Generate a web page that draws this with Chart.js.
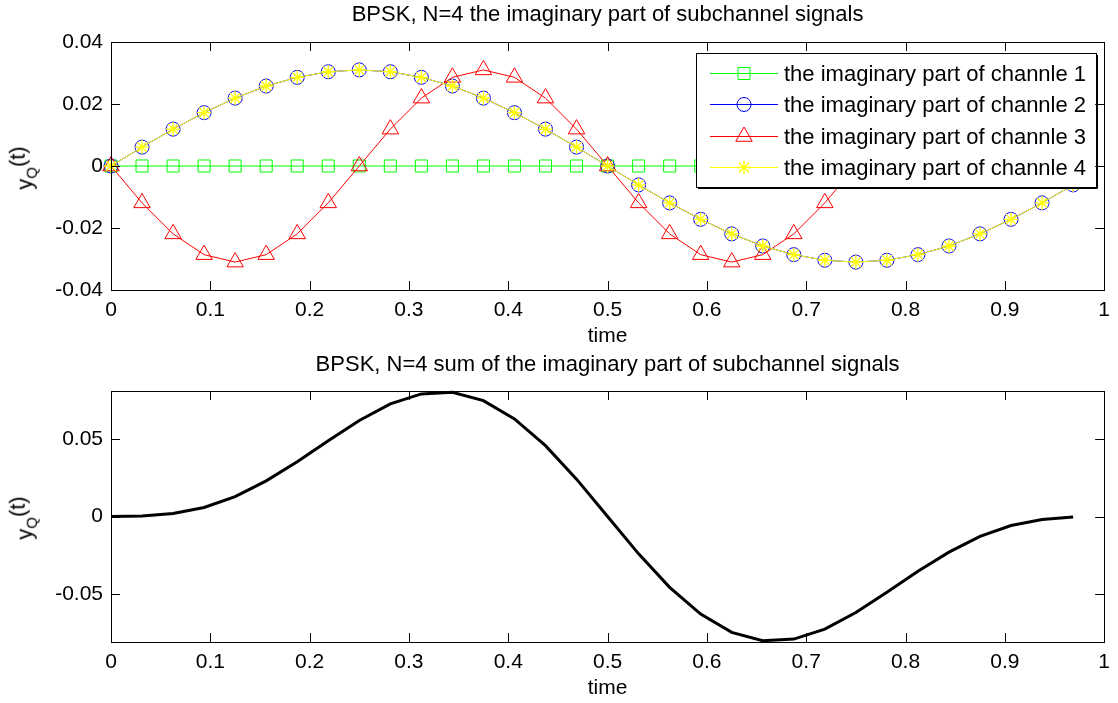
<!DOCTYPE html>
<html>
<head>
<meta charset="utf-8">
<script src="https://cdn.jsdelivr.net/npm/chart.js@4.4.1/dist/chart.umd.min.js"></script>
<style>
  html, body { margin: 0; padding: 0; background: #fff; }
  body { width: 1118px; height: 703px; position: relative; overflow: hidden;
         font-family: "Liberation Sans", Arial, sans-serif; }
  .plot { position: absolute; left: 0; }
  .ylab { position: absolute; font-size: 22px; white-space: nowrap; line-height: 1;
          transform: translate(-50%, -50%) rotate(-90deg); }
  .ylab sub { font-size: 15px; vertical-align: -0.3em; }
  .ylab span { position: relative; top: -0.3em; }
</style>
</head>
<body>
<canvas id="topPlot" class="plot" style="top:0px"></canvas>
<canvas id="bottomPlot" class="plot" style="top:351px"></canvas>
<div class="ylab" style="left:26px; top:168px;">y<sub>Q</sub><span>(t)</span></div>
<div class="ylab" style="left:26px; top:518px;">y<sub>Q</sub><span>(t)</span></div>

<script>
// sample times (1/32 steps)
const time = [0, 0.03125, 0.0625, 0.09375, 0.125, 0.15625, 0.1875, 0.21875,
  0.25, 0.28125, 0.3125, 0.34375, 0.375, 0.40625, 0.4375, 0.46875,
  0.5, 0.53125, 0.5625, 0.59375, 0.625, 0.65625, 0.6875, 0.71875,
  0.75, 0.78125, 0.8125, 0.84375, 0.875, 0.90625, 0.9375, 0.96875];

const channel1 = [0, 0, 0, 0, 0, 0, 0, 0, 0, 0, 0, 0, 0, 0, 0, 0,
  0, 0, 0, 0, 0, 0, 0, 0, 0, 0, 0, 0, 0, 0, 0, 0];
const channel2 = [0, 0.0061, 0.0119, 0.0172, 0.0219, 0.0258, 0.0286, 0.0304,
  0.031, 0.0304, 0.0286, 0.0258, 0.0219, 0.0172, 0.0119, 0.0061,
  0, -0.0061, -0.0119, -0.0172, -0.0219, -0.0258, -0.0286, -0.0304,
  -0.031, -0.0304, -0.0286, -0.0258, -0.0219, -0.0172, -0.0119, -0.0061];
const channel3 = [0, -0.0119, -0.0219, -0.0286, -0.031, -0.0286, -0.0219, -0.0119,
  0, 0.0119, 0.0219, 0.0286, 0.031, 0.0286, 0.0219, 0.0119,
  0, -0.0119, -0.0219, -0.0286, -0.031, -0.0286, -0.0219, -0.0119,
  0, 0.0119, 0.0219, 0.0286, 0.031, 0.0286, 0.0219, 0.0119];
const channel4 = [0, 0.0061, 0.0119, 0.0172, 0.0219, 0.0258, 0.0286, 0.0304,
  0.031, 0.0304, 0.0286, 0.0258, 0.0219, 0.0172, 0.0119, 0.0061,
  0, -0.0061, -0.0119, -0.0172, -0.0219, -0.0258, -0.0286, -0.0304,
  -0.031, -0.0304, -0.0286, -0.0258, -0.0219, -0.0172, -0.0119, -0.0061];
const sumSignal = [0, 0.0003, 0.0019, 0.0058, 0.0128, 0.023, 0.0353, 0.0489,
  0.062, 0.0727, 0.0791, 0.0802, 0.0748, 0.063, 0.0457, 0.0241,
  0, -0.0241, -0.0457, -0.063, -0.0748, -0.0802, -0.0791, -0.0727,
  -0.062, -0.0489, -0.0353, -0.023, -0.0128, -0.0058, -0.0019, -0.0003];

const legendLabels = ['the imaginary part of channle 1', 'the imaginary part of channle 2',
  'the imaginary part of channle 3', 'the imaginary part of channle 4'];

const xTicks = [0, 0.1, 0.2, 0.3, 0.4, 0.5, 0.6, 0.7, 0.8, 0.9, 1];
const yTicksTop = [-0.04, -0.02, 0, 0.02, 0.04];
const yTicksBottom = [-0.05, 0, 0.05];

const FONT = '"Liberation Sans", Arial, sans-serif';
Chart.defaults.font.family = FONT;
Chart.defaults.color = '#000';

const pts = arr => time.map((t, i) => ({ x: t, y: arr[i] }));
const fmt = v => String(+Number(v).toFixed(4));

// MATLAB-like box with inward ticks on all four sides
const boxAxes = {
  id: 'boxAxes',
  afterDraw(chart) {
    const { ctx, chartArea: a, scales } = chart;
    const len = 9;
    ctx.save();
    ctx.strokeStyle = '#000';
    ctx.lineWidth = 1;
    ctx.beginPath();
    scales.x.ticks.forEach(t => {
      const px = Math.round(scales.x.getPixelForValue(t.value)) + 0.5;
      ctx.moveTo(px, a.bottom); ctx.lineTo(px, a.bottom - len);
      ctx.moveTo(px, a.top); ctx.lineTo(px, a.top + len);
    });
    scales.y.ticks.forEach(t => {
      const py = Math.round(scales.y.getPixelForValue(t.value)) + 0.5;
      ctx.moveTo(a.left, py); ctx.lineTo(a.left + len, py);
      ctx.moveTo(a.right, py); ctx.lineTo(a.right - len, py);
    });
    ctx.stroke();
    ctx.strokeRect(Math.round(a.left) + 0.5, Math.round(a.top) + 0.5,
      Math.round(a.right - a.left), Math.round(a.bottom - a.top));
    ctx.restore();
  }
};

// legend box drawn inside the plot area, top right
const insideLegend = {
  id: 'insideLegend',
  afterDatasetsDraw(chart, args, opts) {
    if (!opts.show) return;
    const { ctx, chartArea: a } = chart;
    const dsets = chart.data.datasets;
    ctx.save();
    ctx.font = '22px ' + FONT;
    const textW = Math.max(...dsets.map(d => ctx.measureText(d.label).width));
    const rowH = 31.3;
    const w = Math.round(88 + textW + 10);
    const h = Math.round(20 + rowH * (dsets.length - 1) + 20);
    const x0 = Math.round(a.right - 8 - w);
    const y0 = Math.round(a.top + 11);
    ctx.fillStyle = '#fff';
    ctx.fillRect(x0, y0, w, h);
    ctx.strokeStyle = '#000';
    ctx.lineWidth = 1;
    ctx.strokeRect(x0 + 0.5, y0 + 0.5, w, h);
    ctx.beginPath();
    ctx.moveTo(x0 + w + 1.5, y0 + 2); ctx.lineTo(x0 + w + 1.5, y0 + h + 1.5); ctx.lineTo(x0 + 2, y0 + h + 1.5);
    ctx.stroke();
    dsets.forEach((d, i) => {
      const cy = Math.round(y0 + 20 + i * rowH) + 0.5;
      ctx.strokeStyle = d.borderColor;
      ctx.lineWidth = 1;
      ctx.beginPath();
      ctx.moveTo(x0 + 14, cy); ctx.lineTo(x0 + 82, cy);
      ctx.stroke();
      ctx.fillStyle = 'rgba(0,0,0,0)';
      ctx.strokeStyle = d.pointBorderColor;
      ctx.lineWidth = d.pointBorderWidth;
      Chart.helpers.drawPoint(ctx, { pointStyle: d.pointStyle, radius: d.pointRadius, rotation: 0, borderWidth: d.pointBorderWidth }, x0 + 48, cy);
      ctx.fillStyle = '#000';
      ctx.textBaseline = 'middle';
      ctx.textAlign = 'left';
      ctx.fillText(d.label, x0 + 88, cy + 1);
    });
    ctx.restore();
  }
};

function scaleOpts(min, max, ticks, fixedSize, isX) {
  const o = {
    type: 'linear', min, max,
    afterBuildTicks: s => { s.ticks = ticks.map(v => ({ value: v })); },
    grid: { display: false, drawTicks: false },
    border: { display: false },
    ticks: { padding: 8, font: { size: 21 }, color: '#000', callback: v => fmt(v), autoSkip: false, maxRotation: 0 }
  };
  if (isX) {
    o.afterFit = s => { s.height = fixedSize; };
    o.title = { display: true, text: 'time', font: { size: 21 }, color: '#000', padding: { top: 0, bottom: 2 } };
  } else {
    o.afterFit = s => { s.width = fixedSize; };
  }
  return o;
}

function lineSet(label, arr, color, style, radius, bw, order) {
  return {
    label, data: pts(arr), borderColor: color, borderWidth: 1,
    pointStyle: style, pointRadius: radius, pointBorderColor: color, pointBorderWidth: bw,
    pointBackgroundColor: 'rgba(0,0,0,0)', tension: 0, clip: false, order
  };
}

const topCanvas = document.getElementById('topPlot');
topCanvas.width = 1118; topCanvas.height = 351;
new Chart(topCanvas, {
  type: 'line',
  data: {
    datasets: [
      lineSet(legendLabels[0], channel1, '#00ff00', 'rect', 8.5, 1, 4),
      lineSet(legendLabels[1], channel2, '#0000ff', 'circle', 7, 1, 3),
      lineSet(legendLabels[2], channel3, '#ff0000', 'triangle', 9.5, 1, 2),
      lineSet(legendLabels[3], channel4, '#ffff00', 'star', 7, 1.3, 1)
    ]
  },
  options: {
    responsive: false, animation: false, events: [],
    layout: { padding: { left: 0, right: 11, top: 0, bottom: 0 } },
    scales: {
      x: scaleOpts(0, 1, xTicks, 61, true),
      y: scaleOpts(-0.04, 0.04, yTicksTop, 111, false)
    },
    plugins: {
      legend: { display: false }, tooltip: { enabled: false },
      title: { display: true, fullSize: false, text: 'BPSK, N=4 the imaginary part of subchannel signals',
        font: { size: 22, weight: 'normal' }, color: '#000', padding: { top: 2, bottom: 13.6 } },
      insideLegend: { show: true }
    }
  },
  plugins: [insideLegend, boxAxes]
});

const bottomCanvas = document.getElementById('bottomPlot');
bottomCanvas.width = 1118; bottomCanvas.height = 352;
new Chart(bottomCanvas, {
  type: 'line',
  data: {
    datasets: [{
      label: 'sum', data: pts(sumSignal), borderColor: '#000', borderWidth: 3,
      pointRadius: 0, tension: 0, clip: false
    }]
  },
  options: {
    responsive: false, animation: false, events: [],
    layout: { padding: { left: 0, right: 11, top: 0, bottom: 0 } },
    scales: {
      x: scaleOpts(0, 1, xTicks, 61, true),
      y: scaleOpts(-0.081, 0.081, yTicksBottom, 111, false)
    },
    plugins: {
      legend: { display: false }, tooltip: { enabled: false },
      title: { display: true, fullSize: false, text: 'BPSK, N=4 sum of the imaginary part of subchannel signals',
        font: { size: 22, weight: 'normal' }, color: '#000', padding: { top: 1, bottom: 12.6 } },
      insideLegend: { show: false }
    }
  },
  plugins: [insideLegend, boxAxes]
});
</script>
</body>
</html>
